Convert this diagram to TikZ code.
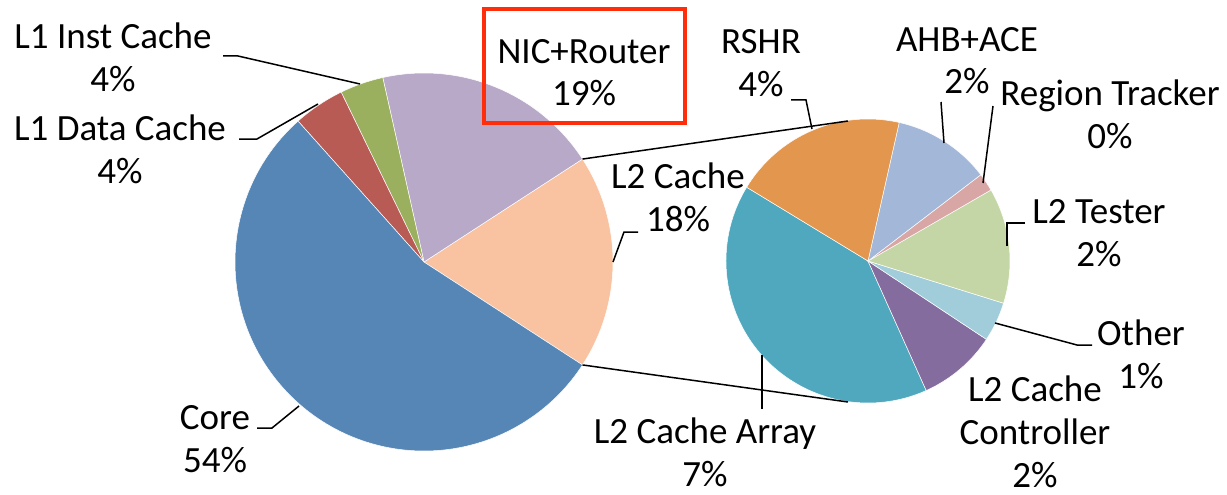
\documentclass[tikz,border=0pt]{standalone}
\usepackage{fontspec}
\setmainfont{Carlito}
\usetikzlibrary{calc}
\definecolor{cCore}{HTML}{5586B6}
\definecolor{cL1D}{HTML}{B95B55}
\definecolor{cL1I}{HTML}{9BB05E}
\definecolor{cNIC}{HTML}{B7A9C7}
\definecolor{cL2}{HTML}{F9C3A1}
\definecolor{cArr}{HTML}{4FA8BE}
\definecolor{cCtl}{HTML}{846C9F}
\definecolor{cOth}{HTML}{A1CDDB}
\definecolor{cTst}{HTML}{C5D6A6}
\definecolor{cReg}{HTML}{D8A6A4}
\definecolor{cAHB}{HTML}{A3B7D8}
\definecolor{cRSH}{HTML}{E2964E}
\definecolor{boxred}{HTML}{FF2D0A}
\newcommand{\pieslice}[6]{% color, cx, cy, r, a1, a2 (visual, ccw)
  \fill[#1, draw=white, line width=0.5pt] (#2,#3) -- ++(-#5:#4) arc[start angle=-#5, end angle=-#6, radius=#4] -- cycle;}
\begin{document}
\begin{tikzpicture}[x=1pt,y=-1pt,
  lbl/.style={font=\fontsize{37}{43}\selectfont, align=center, inner sep=0pt, anchor=base},
  leader/.style={draw=black, line width=1.5pt},
  conn/.style={draw=black, line width=1.5pt}]
\useasboundingbox (0,0) rectangle (1227,495);
% left pie
\pieslice{cL2}{424}{262}{189}{-33}{33}
\pieslice{cNIC}{424}{262}{189}{33}{102.6}
\pieslice{cL1I}{424}{262}{189}{102.6}{116}
\pieslice{cL1D}{424}{262}{189}{116}{131.8}
\pieslice{cCore}{424}{262}{189}{131.8}{327}
% right pie
\pieslice{cArr}{868}{261}{142}{148.7}{294.2}
\pieslice{cCtl}{868}{261}{142}{294.2}{326.5}
\pieslice{cOth}{868}{261}{142}{326.5}{342.7}
\pieslice{cTst}{868}{261}{142}{342.7}{390}
\pieslice{cReg}{868}{261}{142}{30}{37.4}
\pieslice{cAHB}{868}{261}{142}{37.4}{77.3}
\pieslice{cRSH}{868}{261}{142}{77.3}{148.7}
% connector points
\coordinate (LU) at ($(424,262)+(-33:189)$);
\coordinate (LL) at ($(424,262)+(33:189)$);
\coordinate (RU) at (848,121);
\coordinate (RL) at (848,402);
\draw[conn] (LU) -- (RU);
\draw[conn] (LL) -- (RL);
% labels (anchor = baseline of last line)
\node[lbl] (inst) at (113,92) {L1 Inst Cache\\4\%};
\node[lbl] (data) at (120,183) {L1 Data Cache\\4\%};
\node[lbl] (nic) at (584,106) {NIC+Router\\19\%};
\node[draw=boxred, line width=4pt, minimum width=201pt, minimum height=114pt, inner sep=0pt] (nicbox) at (584.5,66) {};
\node[lbl] (l2) at (678,231) {L2 Cache\\18\%};
\node[lbl] (core) at (215,472) {Core\\54\%};
\node[lbl] (rshr) at (761,96) {RSHR\\4\%};
\node[lbl] (ahb) at (967,94) {AHB+ACE\\2\%};
\node[lbl] (reg) at (1110,148) {Region Tracker\\0\%};
\node[lbl] (tst) at (1099,266) {L2 Tester\\2\%};
\node[lbl] (oth) at (1141,388) {Other\\1\%};
\node[lbl] (ctl) at (1035,487) {L2 Cache\\Controller\\2\%};
\node[lbl] (arr) at (705,486) {L2 Cache Array\\7\%};
% leaders
\coordinate (instA) at (223,56); \coordinate (instB) at (238,56); \coordinate (instC) at (360,84);
\draw[leader] (instA) -- (instB) -- (instC);
\coordinate (dataA) at (239,139); \coordinate (dataB) at (257,139); \coordinate (dataC) at (318,104);
\draw[leader] (dataA) -- (dataB) -- (dataC);
\coordinate (l2A) at (638,232); \coordinate (l2B) at (624,232); \coordinate (l2C) at (613,262);
\draw[leader] (l2A) -- (l2B) -- (l2C);
\coordinate (coreA) at (257,428); \coordinate (coreB) at (272,428); \coordinate (coreC) at (299,406);
\draw[leader] (coreA) -- (coreB) -- (coreC);
\coordinate (rshrA) at (791,100); \coordinate (rshrB) at (806,100); \coordinate (rshrC) at (812,129);
\draw[leader] (rshrA) -- (rshrB) -- (rshrC);
\coordinate (ahbA) at (941,102); \coordinate (ahbB) at (944,143);
\draw[leader] (ahbA) -- (ahbB);
\coordinate (regA) at (993,106); \coordinate (regB) at (983,183);
\draw[leader] (regA) -- (regB);
\coordinate (tstA) at (1025,223); \coordinate (tstB) at (1007,223); \coordinate (tstC) at (1007,246);
\draw[leader] (tstA) -- (tstB) -- (tstC);
\coordinate (othA) at (1092,345); \coordinate (othB) at (1077,345); \coordinate (othC) at (995,323);
\draw[leader] (othA) -- (othB) -- (othC);
\coordinate (arrA) at (762,409); \coordinate (arrB) at (762,355);
\draw[leader] (arrA) -- (arrB);
\end{tikzpicture}
\end{document}
